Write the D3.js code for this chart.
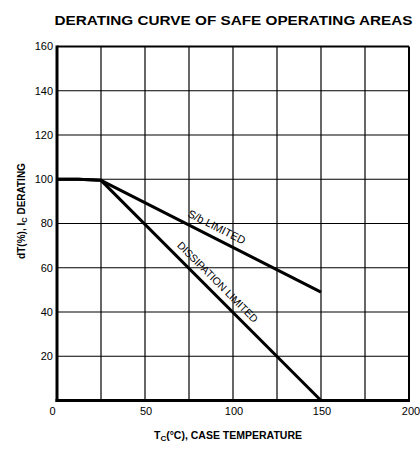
<!DOCTYPE html>
<html>
<head>
<meta charset="utf-8">
<script src="https://cdn.jsdelivr.net/npm/d3@7"></script>
<style>
  html, body { margin: 0; padding: 0; background: #fff; }
  svg { display: block; }
  text { font-family: "Liberation Sans", Arial, Helvetica, sans-serif; fill: #000; }
</style>
</head>
<body>
<svg id="chart" width="420" height="451"></svg>
<script>
// ---- data ----
const title = "DERATING CURVE OF SAFE OPERATING AREAS";
const xTickValues = [0, 50, 100, 150, 200];
const yTickValues = [0, 20, 40, 60, 80, 100, 120, 140, 160];
const xGridValues = [25, 50, 75, 100, 125, 150, 175];
const yGridValues = [20, 40, 60, 80, 100, 120, 140];
const sbTemp = [0, 12, 25, 150];
const sbDerating = [100, 100, 99.5, 49];
const dissTemp = [0, 12, 25, 150];
const dissDerating = [100, 100, 99.5, 0];
const sbLabel = "S/b LIMITED";
const dissLabel = "DISSIPATION LIMITED";

const svg = d3.select("#chart");
const x = d3.scaleLinear().domain([0, 200]).range([57, 409]);
const y = d3.scaleLinear().domain([0, 160]).range([400.5, 46.5]);

// title
svg.append("text").attr("x", 233.5).attr("y", 25)
  .attr("text-anchor", "middle").attr("font-size", 13.5).attr("font-weight", "bold")
  .attr("textLength", 358).attr("lengthAdjust", "spacingAndGlyphs")
  .text(title);

// grid
svg.append("g").selectAll("line").data(xGridValues).join("line")
  .attr("x1", d => x(d)).attr("x2", d => x(d))
  .attr("y1", y(160)).attr("y2", y(0))
  .attr("stroke", "#000").attr("stroke-width", 1.2);
svg.append("g").selectAll("line").data(yGridValues).join("line")
  .attr("x1", x(0)).attr("x2", x(200))
  .attr("y1", d => y(d)).attr("y2", d => y(d))
  .attr("stroke", "#000").attr("stroke-width", 1.2);

// frame
svg.append("line").attr("x1", x(0)).attr("x2", x(200)).attr("y1", y(160)).attr("y2", y(160))
  .attr("stroke", "#000").attr("stroke-width", 2);
svg.append("line").attr("x1", x(200)).attr("x2", x(200)).attr("y1", y(160)).attr("y2", y(0))
  .attr("stroke", "#000").attr("stroke-width", 2);
svg.append("line").attr("x1", x(0)).attr("x2", x(0)).attr("y1", y(160) - 1).attr("y2", y(0) + 1.5)
  .attr("stroke", "#000").attr("stroke-width", 3);
svg.append("line").attr("x1", x(0) - 1.5).attr("x2", x(200) + 1).attr("y1", y(0)).attr("y2", y(0))
  .attr("stroke", "#000").attr("stroke-width", 3);

// axes labels (ticks)
svg.append("g").selectAll("text").data(yTickValues.filter(d => d > 0)).join("text")
  .attr("x", 53).attr("y", d => y(d)).attr("dy", "0.35em")
  .attr("text-anchor", "end").attr("font-size", 11).text(d => d);
svg.append("g").selectAll("text").data(xTickValues).join("text")
  .attr("x", d => d === 0 ? 52.5 : x(d) + (d === 200 ? 2 : 1)).attr("y", 411.5).attr("dy", "0.35em")
  .attr("text-anchor", "middle").attr("font-size", 11).text(d => d);

// axis titles
const xt = svg.append("text").attr("x", 228).attr("y", 439)
  .attr("text-anchor", "middle").attr("font-size", 10.5).attr("font-weight", "bold");
xt.append("tspan").text("T");
xt.append("tspan").attr("font-size", 8).attr("dy", 2).text("C");
xt.append("tspan").attr("dy", -2).text("(°C), CASE TEMPERATURE");

const yt = svg.append("text").attr("transform", "translate(25,211) rotate(-90)")
  .attr("text-anchor", "middle").attr("font-size", 10).attr("font-weight", "bold");
yt.append("tspan").text("dT(%), I");
yt.append("tspan").attr("font-size", 7.5).attr("dy", 2).text("C");
yt.append("tspan").attr("dy", -2).text(" DERATING");

// curves
const line = d3.line().x(d => x(d[0])).y(d => y(d[1])).curve(d3.curveLinear);
svg.append("path").datum(sbTemp.map((t, i) => [t, sbDerating[i]]))
  .attr("d", line).attr("fill", "none").attr("stroke", "#000").attr("stroke-width", 3)
  .attr("stroke-linejoin", "round");
svg.append("path").datum(dissTemp.map((t, i) => [t, dissDerating[i]]))
  .attr("d", line).attr("fill", "none").attr("stroke", "#000").attr("stroke-width", 3)
  .attr("stroke-linejoin", "round");

// line labels
function lineLabel(ts, vs, at, text, size, offset) {
  const i = ts.length - 2;
  const x0 = x(ts[i]), y0 = y(vs[i]), x1 = x(ts[i + 1]), y1 = y(vs[i + 1]);
  const ang = Math.atan2(y1 - y0, x1 - x0) * 180 / Math.PI;
  const v = vs[i] + (vs[i + 1] - vs[i]) * (at - ts[i]) / (ts[i + 1] - ts[i]);
  svg.append("text")
    .attr("transform", `translate(${x(at)},${y(v)}) rotate(${ang})`)
    .attr("y", offset).attr("text-anchor", "middle").attr("font-size", size)
    .text(text);
}
lineLabel(sbTemp, sbDerating, 88, sbLabel, 11, -7);
lineLabel(dissTemp, dissDerating, 87, dissLabel, 10.5, -7);
</script>
</body>
</html>
